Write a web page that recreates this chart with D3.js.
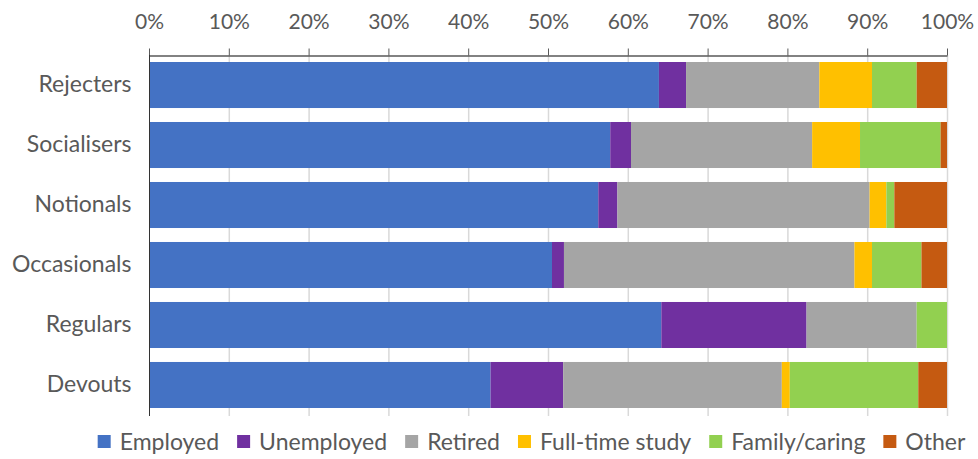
<!DOCTYPE html>
<html>
<head>
<meta charset="utf-8">
<script src="https://cdn.jsdelivr.net/npm/d3@7"></script>
<style>
body{margin:0;background:#fff;}
svg{display:block;font-family:Lato,"Open Sans",sans-serif;}
</style>
</head>
<body>
<svg id="chart" width="978" height="459"></svg>
<script>
const categories = ["Rejecters","Socialisers","Notionals","Occasionals","Regulars","Devouts"];
const seriesNames = ["Employed","Unemployed","Retired","Full-time study","Family/caring","Other"];
const colors = ["#4472C4","#7030A0","#A5A5A5","#FFC000","#92D050","#C55A11"];
const employed    = [63.9, 57.8, 56.3, 50.5, 64.2, 42.8];
const unemployed  = [3.4, 2.6, 2.4, 1.5, 18.2, 9.1];
const retired     = [16.7, 22.7, 31.6, 36.4, 13.8, 27.4];
const fullTime    = [6.6, 6.0, 2.1, 2.2, 0, 1.0];
const family      = [5.6, 10.1, 1.0, 6.2, 3.8, 16.1];
const other       = [3.8, 0.8, 6.6, 3.2, 0, 3.6];
const tickValues = [0,0.1,0.2,0.3,0.4,0.5,0.6,0.7,0.8,0.9,1];

(function(){
const seriesValues = [employed, unemployed, retired, fullTime, family, other];
const rows = categories.map((c,i)=>{
  const r = {category:c};
  seriesNames.forEach((s,j)=>{ r[s] = seriesValues[j][i]; });
  return r;
});
const stack = d3.stack().keys(seriesNames).offset(d3.stackOffsetExpand);
const stacked = stack(rows);

const svg = d3.select("#chart");
const mLeft = 149, mRight = 947, mTop = 55, mBottom = 415;
const x = d3.scaleLinear().domain([0,1]).range([mLeft,mRight]);
const y = d3.scaleBand().domain(categories).range([mTop,mBottom]).paddingInner(0.233).paddingOuter(0.1167);
const textColor = "#595959";
const font = "Lato,'Open Sans',sans-serif";

// gridlines
svg.append("g").selectAll("line").data(tickValues.slice(1)).join("line")
  .attr("x1",d=>x(d)+0.5).attr("x2",d=>x(d)+0.5)
  .attr("y1",mTop).attr("y2",mBottom+1)
  .attr("stroke","#d9d9d9").attr("stroke-width",1.5);

// bars
svg.append("g").selectAll("g").data(stacked).join("g")
  .attr("fill",(d,i)=>colors[i])
  .selectAll("rect").data(d=>d).join("rect")
  .attr("x",d=>x(d[0]))
  .attr("width",d=>Math.max(0,x(d[1])-x(d[0])))
  .attr("y",d=>y(d.data.category))
  .attr("height",y.bandwidth());

// top axis
const xAxis = d3.axisTop(x).tickValues(tickValues).tickFormat(d3.format(".0%")).tickSizeOuter(0).tickSizeInner(7).tickPadding(20);
const gx = svg.append("g").attr("transform",`translate(0,${mTop+0.5})`).call(xAxis);
gx.select(".domain").attr("stroke","#595959").attr("stroke-width",1.5);
gx.selectAll(".tick line").attr("stroke","#595959").attr("stroke-width",1);
gx.selectAll("text").attr("fill",textColor).attr("font-size",21).attr("font-family",font);

// left axis
const yAxis = d3.axisLeft(y).tickSize(0).tickPadding(18);
const gy = svg.append("g").attr("transform",`translate(${mLeft+0.5},0)`).call(yAxis);
gy.select(".domain").attr("stroke","#333").attr("stroke-width",1).attr("d",`M0,${mTop}V${mBottom+1}`);
gy.selectAll("text").attr("fill",textColor).attr("font-size",23).attr("font-family",font);

// legend
const legend = svg.append("g");
const items = legend.selectAll("g").data(seriesNames).join("g");
items.append("rect").attr("width",13).attr("height",13).attr("y",-15).attr("fill",(d,i)=>colors[i]);
items.append("text").attr("x",22).attr("y",0).text(d=>d)
  .attr("fill",textColor).attr("font-size",23).attr("font-family",font);
let cx = 0;
items.each(function(){
  const g = d3.select(this);
  g.attr("transform",`translate(${cx},0)`);
  cx += 22 + g.select("text").node().getComputedTextLength() + 18;
});
const totalW = cx - 18;
legend.attr("transform",`translate(${531.5 - totalW/2},450)`);
})();
</script>
</body>
</html>
